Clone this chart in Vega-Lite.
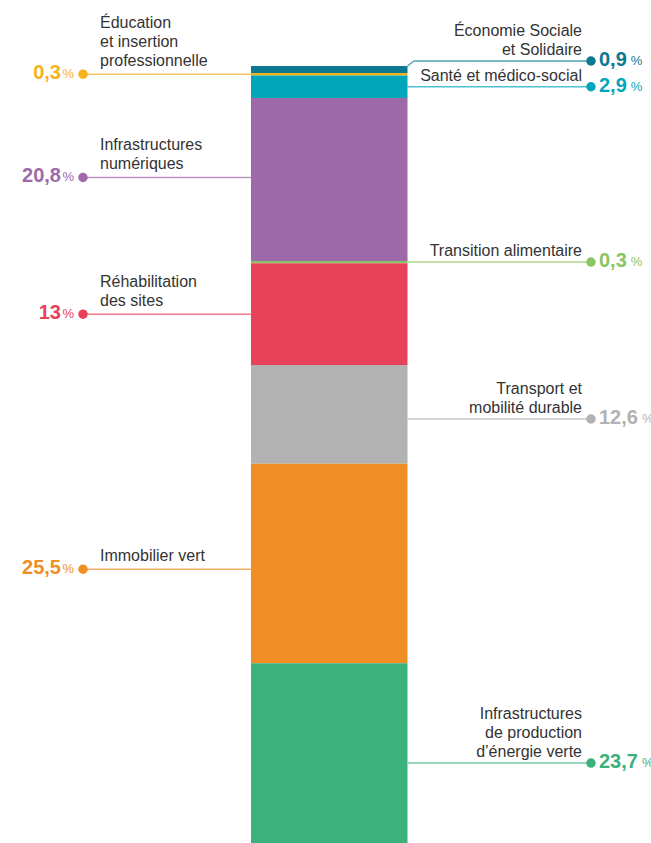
{
  "$schema": "https://vega.github.io/schema/vega-lite/v6.json",
  "width": 651,
  "height": 777,
  "autosize": {"type": "none"},
  "padding": {"top": 66, "left": 0, "right": 0, "bottom": 0},
  "background": "white",
  "config": {
    "view": {"stroke": null},
    "axis": {"disable": true},
    "text": {"font": "Liberation Sans"}
  },
  "data": {
    "values": [
      {"key": "ess", "label": ["Économie Sociale", "et Solidaire"], "value": 0.9, "rank": 9, "side": "right"},
      {"key": "edu", "label": ["Éducation", "et insertion", "professionnelle"], "value": 0.3, "rank": 8, "side": "left"},
      {"key": "sante", "label": ["Santé et médico-social"], "value": 2.9, "rank": 7, "side": "right"},
      {"key": "num", "label": ["Infrastructures", "numériques"], "value": 20.8, "rank": 6, "side": "left"},
      {"key": "alim", "label": ["Transition alimentaire"], "value": 0.3, "rank": 5, "side": "right"},
      {"key": "rehab", "label": ["Réhabilitation", "des sites"], "value": 13, "rank": 4, "side": "left"},
      {"key": "transport", "label": ["Transport et", "mobilité durable"], "value": 12.6, "rank": 3, "side": "right"},
      {"key": "immo", "label": ["Immobilier vert"], "value": 25.5, "rank": 2, "side": "left"},
      {"key": "energie", "label": ["Infrastructures", "de production", "d’énergie verte"], "value": 23.7, "rank": 1, "side": "right"}
    ]
  },
  "transform": [
    {"stack": "value", "groupby": [], "sort": [{"field": "rank", "order": "ascending"}], "as": ["y0", "y1"]},
    {"calculate": "(datum.y0 + datum.y1) / 2 + (datum.key === 'ess' ? 1.09 : datum.key === 'num' ? 0.26 : datum.key === 'transport' ? -0.59 : datum.key === 'immo' ? -0.73 : datum.key === 'energie' ? -0.89 : 0)", "as": "lp"},
    {"calculate": "datum.lp + (length(datum.label) - 1) * 19 / 7.829", "as": "ly"},
    {"calculate": "replace(toString(datum.value), '.', ',')", "as": "num"},
    {"calculate": "datum.side === 'left' ? -1 : 1", "as": "sx"},
    {"calculate": "1 + (8 + 11.12 * (length(datum.num) - (indexof(datum.num, ',') >= 0 ? 1 : 0)) + (indexof(datum.num, ',') >= 0 ? 5.56 : 0) + 4) / 254", "as": "pctx"}
  ],
  "encoding": {
    "color": {
      "field": "key",
      "type": "nominal",
      "legend": null,
      "scale": {
        "domain": ["ess", "edu", "sante", "num", "alim", "rehab", "transport", "immo", "energie"],
        "range": ["#0d7891", "#f7b21b", "#02a6bb", "#9e69a8", "#8cc563", "#e8425b", "#b2b2b2", "#f08e25", "#3bb27b"]
      }
    }
  },
  "layer": [
    {
      "mark": {"type": "bar", "clip": true},
      "encoding": {
        "x": {"datum": -0.3386, "type": "quantitative", "scale": {"domain": [-1, 1], "range": [83, 591], "nice": false, "zero": false}, "axis": null},
        "x2": {"datum": 0.2776},
        "y": {"field": "y0", "type": "quantitative", "scale": {"domain": [0.75, 100], "nice": false, "zero": false}, "axis": null},
        "y2": {"field": "y1"}
      }
    },
    {
      "transform": [{"filter": "datum.side === 'left'"}],
      "mark": {"type": "rule", "strokeWidth": 1.5, "opacity": 0.7},
      "encoding": {
        "x": {"datum": -1, "type": "quantitative"},
        "x2": {"datum": -0.3386},
        "y": {"field": "lp", "type": "quantitative"}
      }
    },
    {
      "transform": [{"filter": "datum.side === 'right' && datum.key !== 'ess'"}],
      "mark": {"type": "rule", "strokeWidth": 1.5, "opacity": 0.7},
      "encoding": {
        "x": {"datum": 0.2776, "type": "quantitative"},
        "x2": {"datum": 1},
        "y": {"field": "lp", "type": "quantitative"}
      }
    },
    {
      "transform": [{"filter": "datum.key === 'ess'"}],
      "mark": {"type": "rule", "strokeWidth": 1.5, "opacity": 0.7},
      "encoding": {
        "x": {"datum": 0.303, "type": "quantitative"},
        "x2": {"datum": 1},
        "y": {"field": "lp", "type": "quantitative"}
      }
    },
    {
      "transform": [{"filter": "datum.key === 'ess'"}],
      "mark": {"type": "rule", "strokeWidth": 1.5, "opacity": 0.7},
      "encoding": {
        "x": {"datum": 0.2776, "type": "quantitative"},
        "x2": {"datum": 0.303},
        "y": {"field": "y1", "type": "quantitative"},
        "y2": {"field": "lp"}
      }
    },
    {
      "mark": {"type": "circle", "size": 90, "opacity": 1},
      "encoding": {
        "x": {"field": "sx", "type": "quantitative"},
        "y": {"field": "lp", "type": "quantitative"}
      }
    },
    {
      "transform": [{"filter": "datum.side === 'left'"}],
      "mark": {"type": "text", "align": "left", "baseline": "alphabetic", "dx": 17, "dy": -8, "fontSize": 16, "lineHeight": 19},
      "encoding": {
        "x": {"datum": -1, "type": "quantitative"},
        "y": {"field": "ly", "type": "quantitative"},
        "text": {"field": "label"},
        "color": {"value": "#333333"}
      }
    },
    {
      "transform": [{"filter": "datum.side === 'right'"}],
      "mark": {"type": "text", "align": "right", "baseline": "alphabetic", "dx": -9, "dy": -6, "fontSize": 16, "lineHeight": 19},
      "encoding": {
        "x": {"datum": 1, "type": "quantitative"},
        "y": {"field": "ly", "type": "quantitative"},
        "text": {"field": "label"},
        "color": {"value": "#333333"}
      }
    },
    {
      "transform": [{"filter": "datum.side === 'left'"}],
      "mark": {"type": "text", "align": "right", "baseline": "alphabetic", "dx": -22, "dy": 5, "fontSize": 20, "fontWeight": "bold"},
      "encoding": {
        "x": {"datum": -1, "type": "quantitative"},
        "y": {"field": "lp", "type": "quantitative"},
        "text": {"field": "num"}
      }
    },
    {
      "transform": [{"filter": "datum.side === 'left'"}],
      "mark": {"type": "text", "align": "right", "baseline": "alphabetic", "dx": -9, "dy": 4, "fontSize": 13},
      "encoding": {
        "x": {"datum": -1, "type": "quantitative"},
        "y": {"field": "lp", "type": "quantitative"},
        "text": {"value": "%"}
      }
    },
    {
      "transform": [{"filter": "datum.side === 'right'"}],
      "mark": {"type": "text", "align": "left", "baseline": "alphabetic", "dx": 8, "dy": 5, "fontSize": 20, "fontWeight": "bold"},
      "encoding": {
        "x": {"datum": 1, "type": "quantitative"},
        "y": {"field": "lp", "type": "quantitative"},
        "text": {"field": "num"}
      }
    },
    {
      "transform": [{"filter": "datum.side === 'right'"}],
      "mark": {"type": "text", "align": "left", "baseline": "alphabetic", "dy": 4, "fontSize": 13},
      "encoding": {
        "x": {"field": "pctx", "type": "quantitative"},
        "y": {"field": "lp", "type": "quantitative"},
        "text": {"value": "%"}
      }
    }
  ]
}
